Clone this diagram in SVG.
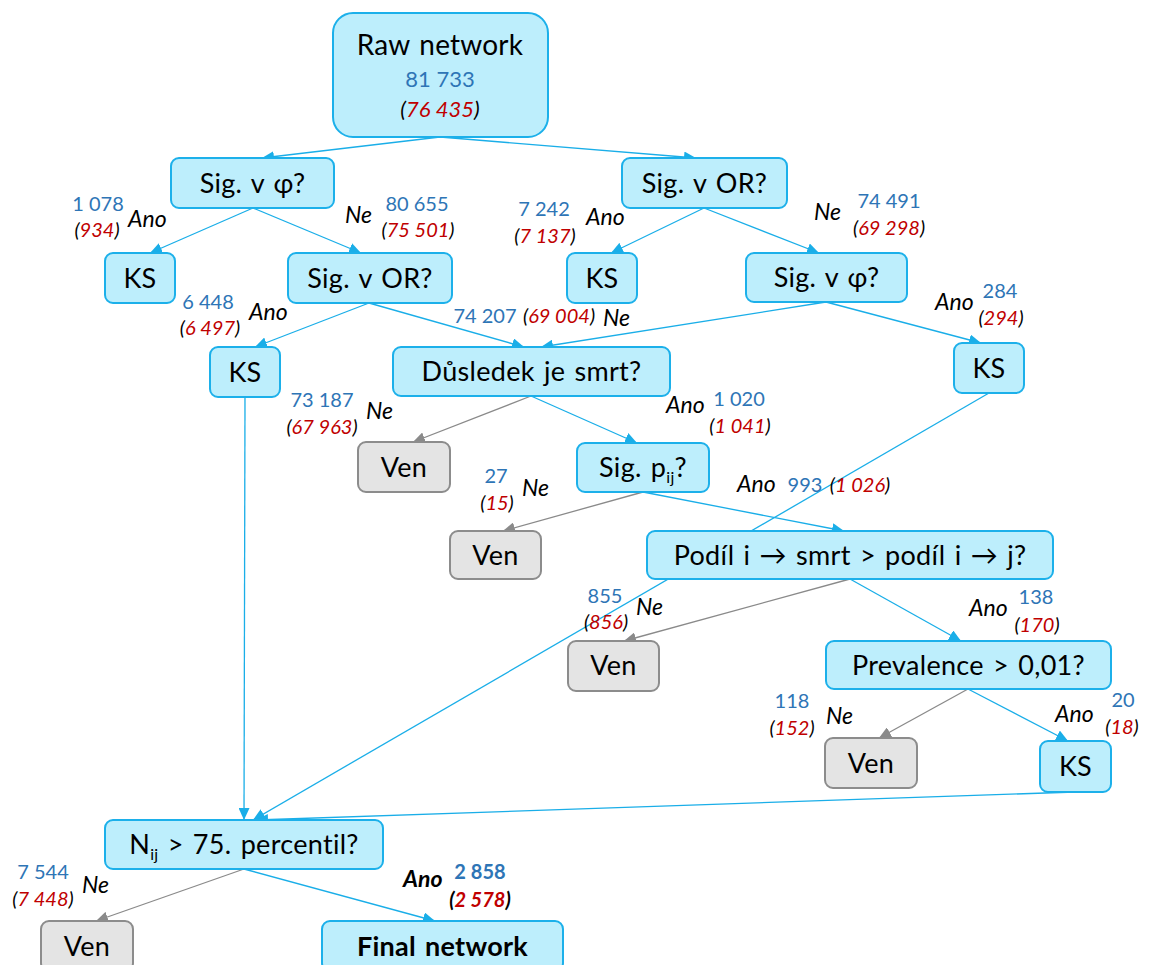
<svg xmlns="http://www.w3.org/2000/svg" width="1149" height="965" viewBox="0 0 1149 965">
<style>
  .n rect { fill:#bdeefc; stroke:#1cb0ea; stroke-width:2; }
  .v rect { fill:#e4e4e4; stroke:#8c8c8c; stroke-width:2; }
  text { font-family: Lato, "Liberation Sans", "DejaVu Sans", sans-serif; }
  .t { font-size:27px; fill:#000; text-anchor:middle; word-spacing:2px; letter-spacing:0.3px; }
  .b { font-weight:bold; }
  .cb { stroke:#1aaee8; stroke-width:1.3; fill:none; marker-end:url(#ab); }
  .cg { stroke:#8a8a8a; stroke-width:1.3; fill:none; marker-end:url(#ag); }
  .num { font-size:20px; fill:#2e75b6; text-anchor:middle; }
  .par { font-size:20px; font-style:italic; fill:#000; text-anchor:middle; }
  .r { fill:#c00000; }
  .lab { font-size:23px; font-style:italic; fill:#000; }
  .sub { font-size:16px; }
</style>
<defs>
  <marker id="ab" viewBox="0 0 12 11" refX="12" refY="5.5" markerWidth="12" markerHeight="11" markerUnits="userSpaceOnUse" orient="auto">
    <path d="M0,0 L12,5.5 L0,11 z" fill="#1aaee8"/>
  </marker>
  <marker id="ag" viewBox="0 0 12 11" refX="12" refY="5.5" markerWidth="12" markerHeight="11" markerUnits="userSpaceOnUse" orient="auto">
    <path d="M0,0 L12,5.5 L0,11 z" fill="#8a8a8a"/>
  </marker>
</defs>

<g id="connectors">
  <line class="cb" x1="440" y1="137" x2="262" y2="158"/>
  <line class="cb" x1="440" y1="137" x2="696" y2="158"/>
  <line class="cb" x1="253" y1="208" x2="150" y2="253"/>
  <line class="cb" x1="253" y1="208" x2="361" y2="253"/>
  <line class="cb" x1="704" y1="208" x2="611" y2="253"/>
  <line class="cb" x1="704" y1="208" x2="819" y2="253"/>
  <line class="cb" x1="369" y1="303" x2="255" y2="347"/>
  <line class="cb" x1="369" y1="303" x2="524" y2="347"/>
  <line class="cb" x1="826" y1="302" x2="541" y2="347"/>
  <line class="cb" x1="826" y1="302" x2="981" y2="343"/>
  <line class="cb" x1="245" y1="397" x2="244" y2="820"/>
  <line class="cg" x1="531" y1="396" x2="413" y2="442"/>
  <line class="cb" x1="531" y1="396" x2="637" y2="443"/>
  <line class="cb" x1="989" y1="393" x2="253" y2="820"/>
  <line class="cg" x1="643" y1="492" x2="503" y2="531"/>
  <line class="cb" x1="643" y1="492" x2="844" y2="531"/>
  <line class="cg" x1="850" y1="579" x2="624" y2="641"/>
  <line class="cb" x1="850" y1="579" x2="961" y2="641"/>
  <line class="cg" x1="968" y1="689" x2="879" y2="738"/>
  <line class="cb" x1="968" y1="689" x2="1068" y2="741"/>
  <line class="cb" x1="1075" y1="792" x2="256" y2="820"/>
  <line class="cg" x1="244" y1="869" x2="96" y2="921"/>
  <line class="cb" x1="244" y1="869" x2="435" y2="921"/>
</g>

<g id="raw" class="n"><rect x="333" y="13" width="215" height="124" rx="20"/>
  <text class="t" x="440" y="55" style="font-size:28px;letter-spacing:0.2px">Raw network</text>
  <text class="num" x="440" y="87" style="font-size:22px">81 733</text>
  <text class="par" x="440" y="117" style="font-size:22px">(<tspan class="r">76 435</tspan>)</text>
</g>
<g id="sigphi1" class="n"><rect x="171" y="158" width="163" height="50" rx="8"/><text class="t" x="252.5" y="193">Sig. v φ?</text></g>
<g id="sigor1" class="n"><rect x="622" y="158" width="165" height="50" rx="8"/><text class="t" x="704.5" y="193">Sig. v OR?</text></g>
<g id="ks1" class="n"><rect x="105" y="253" width="70" height="50" rx="8"/><text class="t" x="140" y="288">KS</text></g>
<g id="sigor2" class="n"><rect x="288" y="253" width="164" height="50" rx="8"/><text class="t" x="370" y="288">Sig. v OR?</text></g>
<g id="ks2" class="n"><rect x="567" y="253" width="70" height="50" rx="8"/><text class="t" x="602" y="288">KS</text></g>
<g id="sigphi2" class="n"><rect x="746" y="253" width="161" height="49" rx="8"/><text class="t" x="826.5" y="287">Sig. v φ?</text></g>
<g id="ks3" class="n"><rect x="210" y="347" width="70" height="50" rx="8"/><text class="t" x="245" y="382">KS</text></g>
<g id="dusledek" class="n"><rect x="393" y="347" width="277" height="49" rx="8"/><text class="t" x="531.5" y="381">Důsledek je smrt?</text></g>
<g id="ks4" class="n"><rect x="954" y="343" width="70" height="50" rx="8"/><text class="t" x="989" y="378">KS</text></g>
<g id="ven1" class="v"><rect x="358" y="442" width="92" height="50" rx="8"/><text class="t" x="404" y="477">Ven</text></g>
<g id="sigpij" class="n"><rect x="577" y="443" width="132" height="49" rx="8"/><text class="t" x="643" y="477">Sig. p<tspan class="sub" dy="6">ij</tspan><tspan dy="-6">?</tspan></text></g>
<g id="ven2" class="v"><rect x="450" y="531" width="91" height="48" rx="8"/><text class="t" x="495.5" y="565">Ven</text></g>
<g id="podil" class="n"><rect x="647" y="531" width="406" height="48" rx="8"/><text class="t" x="850" y="565">Podíl i → smrt &gt; podíl i → j?</text></g>
<g id="ven3" class="v"><rect x="568" y="641" width="91" height="50" rx="8"/><text class="t" x="613.5" y="675">Ven</text></g>
<g id="prevalence" class="n"><rect x="826" y="641" width="285" height="48" rx="8"/><text class="t" x="968.5" y="675">Prevalence &gt; 0,01?</text></g>
<g id="ven4" class="v"><rect x="825" y="738" width="92" height="50" rx="8"/><text class="t" x="871" y="773">Ven</text></g>
<g id="ks5" class="n"><rect x="1040" y="741" width="71" height="51" rx="8"/><text class="t" x="1075.5" y="776">KS</text></g>
<g id="nij" class="n"><rect x="105" y="820" width="278" height="49" rx="8"/><text class="t" x="244" y="854">N<tspan class="sub" dy="6">ij</tspan><tspan dy="-6"> &gt; 75. percentil?</tspan></text></g>
<g id="ven5" class="v"><rect x="41" y="921" width="92" height="50" rx="8"/><text class="t" x="87" y="956">Ven</text></g>
<g id="final" class="n"><rect x="322" y="921" width="241" height="50" rx="8"/><text class="t b" x="442.5" y="956">Final network</text></g>

<g id="labels">
  <text class="num" x="98" y="211">1 078</text><text class="par" x="97" y="237">(<tspan class="r">934</tspan>)</text><text class="lab" x="128" y="227">Ano</text>
  <text class="num" x="417" y="211">80 655</text><text class="par" x="418" y="237">(<tspan class="r">75 501</tspan>)</text><text class="lab" x="345" y="223">Ne</text>
  <text class="num" x="544" y="216">7 242</text><text class="par" x="545" y="243">(<tspan class="r">7 137</tspan>)</text><text class="lab" x="586" y="225">Ano</text>
  <text class="num" x="889" y="208">74 491</text><text class="par" x="889" y="235">(<tspan class="r">69 298</tspan>)</text><text class="lab" x="814" y="220">Ne</text>
  <text class="num" x="208" y="309">6 448</text><text class="par" x="210" y="335">(<tspan class="r">6 497</tspan>)</text><text class="lab" x="249" y="320">Ano</text>
  <text class="num" x="485" y="323">74 207</text><text class="par" x="559" y="323">(<tspan class="r">69 004</tspan>)</text><text class="lab" x="603" y="326">Ne</text>
  <text class="num" x="1000" y="298">284</text><text class="par" x="1001" y="325">(<tspan class="r">294</tspan>)</text><text class="lab" x="935" y="310">Ano</text>
  <text class="num" x="322" y="407">73 187</text><text class="par" x="322" y="434">(<tspan class="r">67 963</tspan>)</text><text class="lab" x="366" y="419">Ne</text>
  <text class="num" x="739" y="406">1 020</text><text class="par" x="740" y="433">(<tspan class="r">1 041</tspan>)</text><text class="lab" x="666" y="413">Ano</text>
  <text class="num" x="496" y="483">27</text><text class="par" x="497" y="510">(<tspan class="r">15</tspan>)</text><text class="lab" x="522" y="496">Ne</text>
  <text class="lab" x="737" y="492">Ano</text><text class="num" x="805" y="492">993</text><text class="par" x="860" y="492">(<tspan class="r">1 026</tspan>)</text>
  <text class="num" x="605" y="603">855</text><text class="par" x="606" y="629">(<tspan class="r">856</tspan>)</text><text class="lab" x="636" y="615">Ne</text>
  <text class="num" x="1036" y="604">138</text><text class="par" x="1037" y="632">(<tspan class="r">170</tspan>)</text><text class="lab" x="969" y="616">Ano</text>
  <text class="num" x="792" y="708">118</text><text class="par" x="792" y="735">(<tspan class="r">152</tspan>)</text><text class="lab" x="826" y="724">Ne</text>
  <text class="num" x="1123" y="707">20</text><text class="par" x="1122" y="734">(<tspan class="r">18</tspan>)</text><text class="lab" x="1055" y="722">Ano</text>
  <text class="num" x="43" y="879">7 544</text><text class="par" x="43" y="906">(<tspan class="r">7 448</tspan>)</text><text class="lab" x="82" y="893">Ne</text>
  <text class="num b" x="480" y="879">2 858</text><text class="par b" x="480" y="907">(<tspan class="r">2 578</tspan>)</text><text class="lab b" x="403" y="887">Ano</text>
</g>
</svg>
